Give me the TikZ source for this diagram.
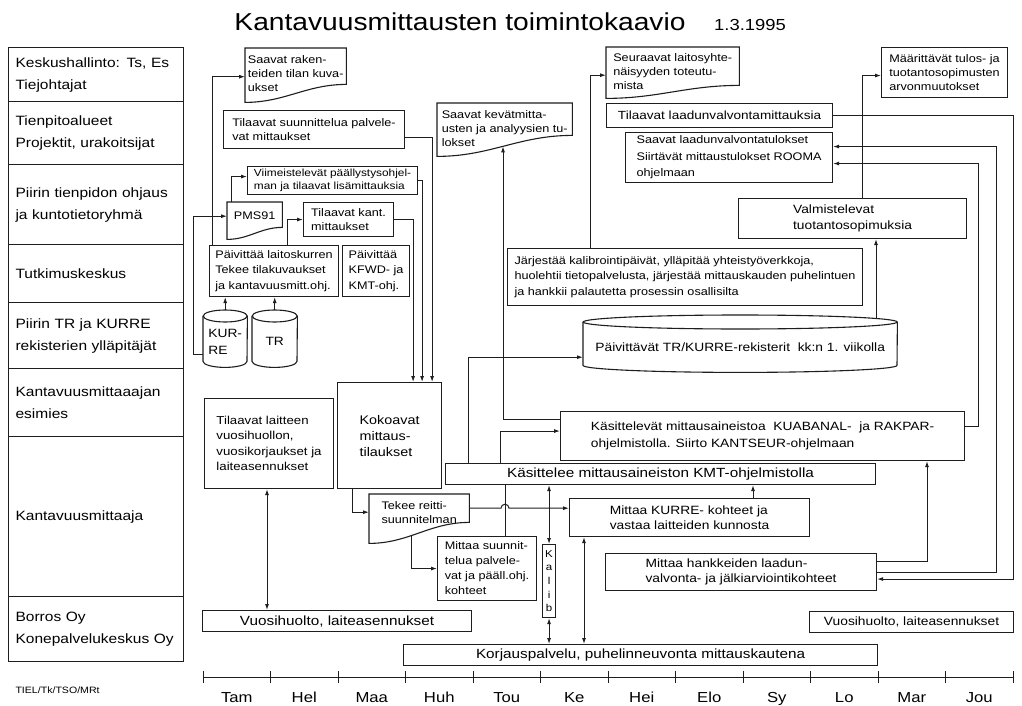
\documentclass[tikz,border=0pt]{standalone}
\usepackage{fontspec}
\setmainfont{Liberation Sans}[FakeStretch=1.15]
\usepackage{tikz}
\usetikzlibrary{arrows.meta, calc}
\definecolor{ink}{RGB}{30,30,30}
\newcommand{\boxfont}{\fontsize{11}{14}\selectfont}
\newcommand{\midfont}{\fontsize{12}{15.5}\selectfont}
\newcommand{\bigfont}{\fontsize{13.3}{16}\selectfont}
\newcommand{\lanefont}{\fontsize{13.5}{22}\selectfont}
% wavy-bottom document outline round a named node
\newcommand{\docframe}[3]{%
  \draw[shapeline] (#1.north west) -- ([yshift=-#2pt]#1.south west)
    to[out=0, in=180] ([yshift=#3pt]#1.south east) -- (#1.north east) -- cycle;}
% data store outline round a named node
\newcommand{\cylframe}[3]{%
  \draw[shapeline] ([yshift=#3pt]#1.north west) -- (#1.south west)
    arc[start angle=180, end angle=360, x radius=#2pt, y radius=#3pt]
    -- ([yshift=#3pt]#1.north east);
  \draw[shapeline] ([yshift=#3pt]#1.north) ellipse[x radius=#2pt, y radius=#3pt];}
\tikzset{
  shapeline/.style={draw=ink, line width=1.1pt},
  lane/.style={rectangle, draw=ink, line width=1.1pt, anchor=north west,
    minimum width=175pt, text width=161pt, inner xsep=7pt, align=left, font=\lanefont},
  box/.style={rectangle, draw=ink, line width=1.1pt, anchor=north west,
    align=left, inner sep=2pt, font=\boxfont},
  docnode/.style={rectangle, anchor=north west, align=left, inner sep=2pt, font=\boxfont},
  arrow/.style={-{Latex[length=6pt,width=4pt]}, line width=1pt, color=ink},
  twoway/.style={{Latex[length=6pt,width=4pt]}-{Latex[length=6pt,width=4pt]}, line width=1pt, color=ink},
  line/.style={line width=1pt, color=ink}
}

\begin{document}
\begin{tikzpicture}[x=1pt, y=-1pt]
  \useasboundingbox (0,0) rectangle (1022,706);
  \fill[white] (0,0) rectangle (1022,706);

  % Title
  \node[font=\fontsize{24.5}{28}\selectfont] (title) at (460,22) {Kantavuusmittausten toimintokaavio};
  \node[font=\fontsize{16}{18}\selectfont] (date) at (750,25) {1.3.1995};

  % Lanes
  \node[lane, minimum height=54pt] (ln1) at (8,47) {Keskushallinto: Ts, Es\\Tiejohtajat};
  \node[lane, minimum height=63pt] (ln2) at (8,101) {Tienpitoalueet\\Projektit, urakoitsijat};
  \node[lane, minimum height=80pt] (ln3) at (8,164) {Piirin tienpidon ohjaus\\ja kuntotietoryhmä};
  \node[lane, minimum height=58pt] (ln4) at (8,244) {Tutkimuskeskus};
  \node[lane, minimum height=66pt] (ln5) at (8,302) {Piirin TR ja KURRE\\rekisterien ylläpitäjät};
  \node[lane, minimum height=68pt] (ln6) at (8,368) {Kantavuusmittaaajan\\esimies};
  \node[lane, minimum height=160pt] (ln7) at (8,436) {Kantavuusmittaaja};
  \node[lane, minimum height=65pt] (ln8) at (8,596) {Borros Oy\\Konepalvelukeskus Oy};
  \node[anchor=west, font=\fontsize{9.2}{11}\selectfont] (sign) at (12,690) {TIEL/Tk/TSO/MRt};

  % Time axis
  \draw[line] (203,677) -- (1013,677);
  \foreach \m [count=\i from 0] in {Tam,Hel,Maa,Huh,Tou,Ke,Hei,Elo,Sy,Lo,Mar,Jou} {
    \draw[line] (203+67.5*\i,671) -- (203+67.5*\i,683);
    \node[anchor=base, font=\fontsize{14.5}{17}\selectfont] (mon\i) at (236.75+67.5*\i,702) {\m};
  }
  \draw[line] (1013,671) -- (1013,683);

  % Upper left boxes
  \node[docnode, minimum width=101pt, minimum height=51pt] (raken) at (245,48) {Saavat raken-\\teiden tilan kuva-\\ukset};
  \docframe{raken}{3}{15}
  \node[box, minimum width=181pt, minimum height=38pt] (suunn) at (223,110) {Tilaavat suunnittelua palvele-\\vat mittaukset};
  \node[box, minimum width=170pt, minimum height=28pt, font=\fontsize{10.3}{12.5}\selectfont] (viim) at (247,166) {Viimeistelevät päällystysohjel-\\man ja tilaavat lisämittauksia};
  \node[docnode, minimum width=55pt, minimum height=28pt] (pms) at (227,202) {PMS91};
  \docframe{pms}{9}{3}
  \node[box, minimum width=90pt, minimum height=34pt] (kant) at (303,202) {Tilaavat kant.\\mittaukset};
  \node[box, minimum width=129pt, minimum height=51pt, font=\fontsize{11}{15.5}\selectfont] (laitos) at (209,245) {Päivittää laitoskurren\\Tekee tilakuvaukset\\ja kantavuusmitt.ohj.};
  \node[box, minimum width=67pt, minimum height=51pt, font=\fontsize{11}{15.5}\selectfont] (kfwd) at (342,245) {Päivittää\\KFWD- ja\\KMT-ohj.};
  \node[docnode, minimum width=44pt, minimum height=39pt, font=\fontsize{12}{17}\selectfont] (kurre) at (203,322) {KUR-\\RE};
  \cylframe{kurre}{22}{6}
  \node[docnode, minimum width=45pt, minimum height=39pt, font=\midfont] (tr) at (252,322) {TR};
  \cylframe{tr}{22.5}{6}

  % Upper right boxes
  \node[docnode, minimum width=135pt, minimum height=50pt] (kevat) at (437,103) {Saavat kevätmitta-\\usten ja analyysien tu-\\lokset};
  \docframe{kevat}{3}{18}
  \node[docnode, minimum width=133pt, minimum height=48pt] (seur) at (606,47) {Seuraavat laitosyhte-\\näisyyden toteutu-\\mista};
  \docframe{seur}{3}{10}
  \node[box, minimum width=126pt, minimum height=50pt] (maar) at (881,47) {Määrittävät tulos- ja\\tuotantosopimusten\\arvonmuutokset};
  \node[box, minimum width=226pt, minimum height=24pt, font=\fontsize{11.8}{14}\selectfont] (laadun) at (606,103) {Tilaavat laadunvalvontamittauksia};
  \node[box, minimum width=207pt, minimum height=50pt, font=\fontsize{11}{16.5}\selectfont] (saavlaad) at (625,132) {Saavat laadunvalvontatulokset\\Siirtävät mittaustulokset ROOMA\\ohjelmaan};
  \node[box, minimum width=228pt, minimum height=40pt, font=\midfont] (valm) at (738,198) {Valmistelevat\\tuotantosopimuksia};
  \node[box, minimum width=355pt, minimum height=57pt, font=\fontsize{11}{15.5}\selectfont] (jarj) at (507,248) {Järjestää kalibrointipäivät, ylläpitää yhteistyöverkkoja,\\huolehtii tietopalvelusta, järjestää mittauskauden puhelintuen\\ja hankkii palautetta prosessin osallisilta};
  \node[docnode, minimum width=314pt, minimum height=36pt, font=\midfont] (paiv) at (583,329) {Päivittävät TR/KURRE-rekisterit~ kk:n 1. viikolla};
  \cylframe{paiv}{157}{7}

  % Middle and lower boxes
  \node[box, minimum width=104pt, minimum height=106pt, font=\fontsize{12.5}{16}\selectfont] (kokoa) at (337,382) {Kokoavat\\mittaus-\\tilaukset};
  \node[box, minimum width=129pt, minimum height=90pt, font=\fontsize{11.5}{15.5}\selectfont] (vuosi) at (204,398) {Tilaavat laitteen\\vuosihuollon,\\vuosikorjaukset ja\\laiteasennukset};
  \node[box, minimum width=404pt, minimum height=49pt, font=\fontsize{12}{17}\selectfont] (kasv) at (560,411) {Käsittelevät mittausaineistoa~ KUABANAL-~ ja RAKPAR-\\ohjelmistolla. Siirto KANTSEUR-ohjelmaan};
  \node[box, minimum width=430pt, minimum height=21pt, font=\bigfont] (kasl) at (445,463) {Käsittelee mittausaineiston KMT-ohjelmistolla};
  \node[docnode, minimum width=100pt, minimum height=36pt] (tekee) at (369,494) {Tekee reitti-\\suunnitelman};
  \docframe{tekee}{13}{8}
  \node[box, minimum width=240pt, minimum height=38pt, font=\fontsize{12}{15}\selectfont] (kohde) at (569,498) {Mittaa KURRE- kohteet ja\\vastaa laitteiden kunnosta};
  \node[box, minimum width=99pt, minimum height=64pt, font=\fontsize{11}{15}\selectfont] (mitsu) at (437,536) {Mittaa suunnit-\\telua palvele-\\vat ja pääll.ohj.\\kohteet};
  \node[box, minimum width=13pt, minimum height=73pt, inner sep=0pt, align=center, font=\fontsize{10}{13.7}\selectfont] (kalib) at (542,544) {K\\a\\l\\i\\b};
  \node[box, minimum width=271pt, minimum height=37pt, font=\fontsize{12}{15}\selectfont] (hank) at (605,553) {Mittaa hankkeiden laadun-\\valvonta- ja jälkiarviointikohteet};
  \node[box, minimum width=269pt, minimum height=21pt, font=\bigfont] (huolto) at (202,610) {Vuosihuolto, laiteasennukset};
  \node[box, minimum width=204pt, minimum height=21pt, font=\fontsize{12}{14}\selectfont] (huoltob) at (809,611) {Vuosihuolto, laiteasennukset};
  \node[box, minimum width=474pt, minimum height=21pt, font=\bigfont] (korj) at (403,644) {Korjauspalvelu, puhelinneuvonta mittauskautena};

  % Connectors, left part
  \draw[arrow] ([xshift=3pt]laitos.north west) |- ([yshift=-3pt]raken.west);
  \draw[arrow] ([yshift=-13pt]kurre.west) -- ++(-10,0) |- (pms.west);
  \draw[arrow] ([xshift=4pt]pms.north west) |- ([yshift=4pt]viim.west);
  \draw[arrow] ([xshift=78pt]laitos.north west) |- (kant.west);
  \draw[arrow] ([yshift=12pt]kurre.north) -- (kurre.north |- laitos.south);
  \draw[arrow] ([yshift=12pt]tr.north) -- (tr.north |- laitos.south);
  \draw[arrow] (kant.east) -| ([xshift=-29pt]kokoa.north east);
  \draw[arrow] (viim.east) -| ([xshift=-20pt]kokoa.north east);
  \draw[arrow] ([yshift=-8pt]suunn.east) -| ([xshift=-10pt]kokoa.north east);
  \draw[arrow] ([xshift=15pt]kokoa.south west) |- (tekee.west);
  \draw[arrow] ([xshift=42pt,yshift=-5pt]tekee.south west) |- (mitsu.west);
  \draw[twoway] ([xshift=63pt]vuosi.south west) coordinate (v1) -- (v1 |- huolto.north);

  % Connectors, middle part
  \coordinate (hop) at ([xshift=68pt]mitsu.north west);
  \draw[line] (hop) -- (hop |- kasl.south);
  \draw[arrow] ([yshift=4pt]tekee.east) coordinate (tk) -- ([xshift=-4pt]tk -| hop)
    arc[start angle=180, end angle=0, radius=4pt] -- (tk -| kohde.west);
  \draw[arrow] ([xshift=184pt]kohde.north west) coordinate (k1) -- (k1 |- kasl.south);
  \draw[twoway] ([xshift=15pt]kohde.south west) coordinate (k2) -- (k2 |- korj.north);
  \draw[twoway] (kalib.north) -- (kalib.north |- kasl.south);
  \draw[twoway] (kalib.south) -- (kalib.south |- korj.north);
  \draw[arrow] ([xshift=55pt]kasl.north west) |- ([yshift=5pt]kasv.west);
  \draw[arrow] ([yshift=17pt]kasv.west) -| ([xshift=66pt,yshift=7pt]kevat.south west);
  \draw[arrow] ([xshift=23pt]kasl.north west) |- ([yshift=-10pt]paiv.west);
  \draw[arrow] ([xshift=83pt]jarj.north west) |- ([yshift=-4pt]seur.west);

  % Connectors, right part
  \draw[arrow] ([xshift=293pt,yshift=10pt]paiv.north west) coordinate (p1) -- (p1 |- valm.south);
  \draw[arrow] ([xshift=124pt]valm.north west) |- ([yshift=-3pt]maar.west);
  \draw[arrow] (laadun.east) -- ++(180,0) |- ([yshift=-7pt]hank.east);
  \draw[arrow] (hank.east) -- ++(119,0) |- ([yshift=11pt]saavlaad.east);
  \draw[arrow] ([yshift=11pt]hank.east) -| ([xshift=367pt]kasv.south west);
  \draw[arrow] ([yshift=10pt]kasv.east) -- ++(13,0) |- ([yshift=-6pt]saavlaad.east);
\end{tikzpicture}
\end{document}
